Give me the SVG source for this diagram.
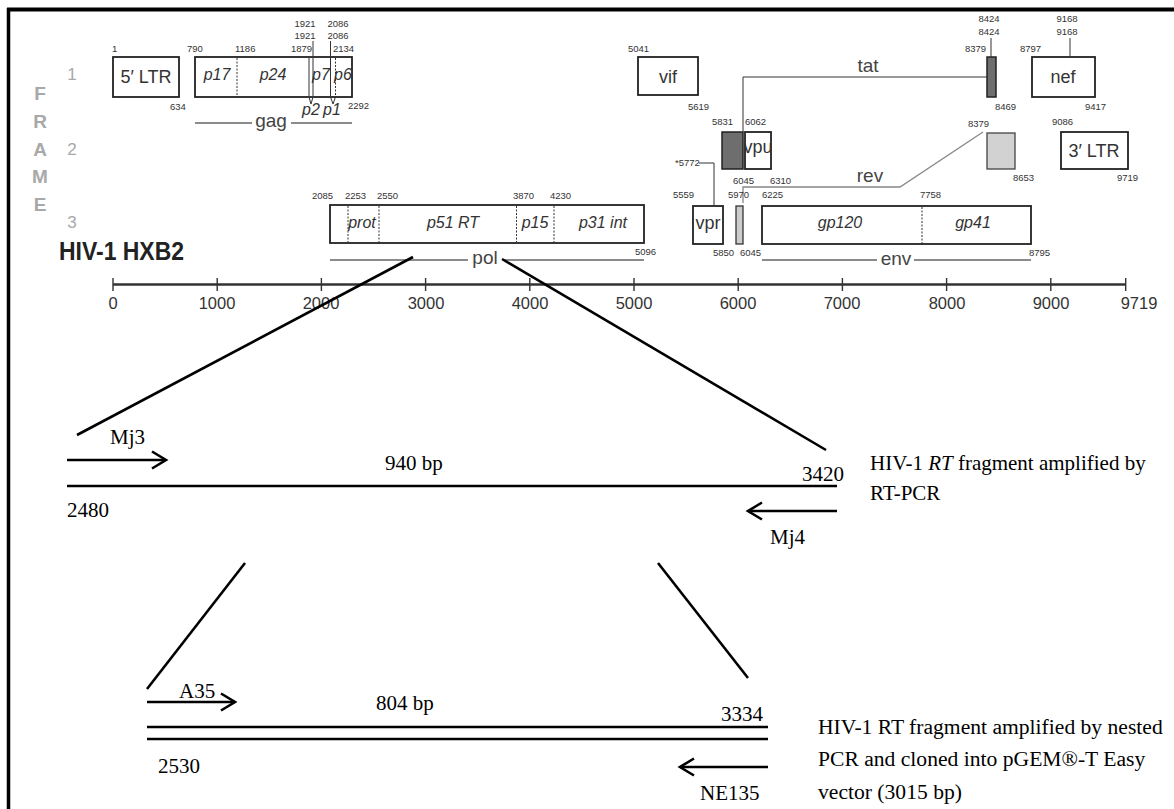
<svg xmlns="http://www.w3.org/2000/svg" width="1174" height="809" viewBox="0 0 1174 809">
<style>
.m{font-family:"Liberation Sans Narrow","Liberation Sans",Arial,sans-serif;fill:#333}
.n{font-size:9.5px}
.c{text-anchor:middle}
.e{text-anchor:end}
.bl{font-size:18px}
.it{font-size:16px;font-style:italic}
.gl{font-size:19px;fill:#444}
.ax{font-size:16.5px}
.fr{font-size:19px;fill:#a8a8a8;font-weight:bold}
.hx{font-size:25px;font-weight:bold;fill:#222}
.bx{fill:#fff;stroke:#222;stroke-width:1.8}
.dv{stroke:#333;stroke-width:1}
.dd{stroke:#333;stroke-width:1;stroke-dasharray:2,1.5}
.gln{stroke:#666;stroke-width:1.3;fill:none}
.t{font-family:"Liberation Serif","Times New Roman",serif;font-size:21px;fill:#000}
.t2{font-size:21.6px}
.bk{stroke:#000;stroke-width:2.6;fill:none}
</style>
<defs>
<marker id="ah" markerUnits="userSpaceOnUse" markerWidth="20" markerHeight="20" viewBox="0 0 20 20" refX="15" refY="10" orient="auto">
<path d="M1,1.5 L15,10 L1,18.5" fill="none" stroke="#000" stroke-width="2.6"/>
</marker>
</defs>
<rect width="1174" height="809" fill="#fff"/>
<g id="border" stroke="#000" fill="none">
<path d="M7,9.5 H1174" stroke-width="4"/>
<path d="M8.5,8 V809" stroke-width="3.5"/>
</g>

<g id="frame-labels" class="m">
<text class="fr c" x="40" y="100">F</text>
<text class="fr c" x="40" y="128">R</text>
<text class="fr c" x="40" y="156">A</text>
<text class="fr c" x="40" y="183">M</text>
<text class="fr c" x="40" y="211">E</text>
<text class="fr c" x="72" y="80" style="font-size:17px;font-weight:normal">1</text>
<text class="fr c" x="72" y="155" style="font-size:17px;font-weight:normal">2</text>
<text class="fr c" x="72" y="228" style="font-size:17px;font-weight:normal">3</text>
<text class="hx" x="59" y="260" textLength="125" lengthAdjust="spacingAndGlyphs">HIV-1 HXB2</text>
</g>

<g id="ltr5" class="m">
<rect class="bx" x="113" y="57" width="66" height="40"/>
<text class="bl c" x="146" y="83">5′ LTR</text>
<text class="n" x="112" y="52">1</text>
<text class="n" x="170" y="110">634</text>
</g>

<g id="gag" class="m">
<rect class="bx" x="195" y="57" width="157" height="40"/>
<line class="dd" x1="237" y1="58" x2="237" y2="96"/>
<line class="dv" x1="309" y1="58" x2="309" y2="96"/>
<line class="dv" x1="313" y1="58" x2="313" y2="96"/>
<line class="dv" x1="330.5" y1="58" x2="330.5" y2="96"/>
<line class="dd" x1="335.5" y1="58" x2="335.5" y2="96"/>
<polyline class="dv" fill="none" points="309,97 311,104 313,97"/>
<polyline class="dv" fill="none" points="330.5,97 333,104 335.5,97"/>
<line class="dv" x1="313" y1="41" x2="313" y2="57"/>
<line class="dv" x1="330.5" y1="41" x2="330.5" y2="57"/>
<text class="it c" x="217" y="80">p17</text>
<text class="it c" x="273" y="80">p24</text>
<text class="it c" x="321" y="80">p7</text>
<text class="it c" x="343" y="80">p6</text>
<text class="it c" x="311" y="115">p2</text>
<text class="it c" x="332" y="115">p1</text>
<text class="n" x="187" y="52">790</text>
<text class="n" x="235" y="52">1186</text>
<text class="n" x="291" y="52">1879</text>
<text class="n" x="333" y="52">2134</text>
<text class="n c" x="305" y="27">1921</text>
<text class="n c" x="305" y="39">1921</text>
<text class="n c" x="338" y="27">2086</text>
<text class="n c" x="338" y="39">2086</text>
<text class="n" x="348" y="109">2292</text>
<path class="gln" d="M195,123 H252 M291,123 H352"/>
<text class="gl c" x="271" y="127">gag</text>
</g>

<g id="pol" class="m">
<rect class="bx" x="330" y="205" width="314" height="38"/>
<line class="dd" x1="348" y1="206" x2="348" y2="242"/>
<line class="dd" x1="379" y1="206" x2="379" y2="242"/>
<line class="dd" x1="516.5" y1="206" x2="516.5" y2="242"/>
<line class="dd" x1="554" y1="206" x2="554" y2="242"/>
<text class="it c" x="362" y="228">prot</text>
<text class="it c" x="453" y="228">p51 RT</text>
<text class="it c" x="535" y="228">p15</text>
<text class="it c" x="603" y="228">p31 int</text>
<text class="n" x="312" y="199">2085</text>
<text class="n" x="345" y="199">2253</text>
<text class="n" x="377" y="199">2550</text>
<text class="n" x="513" y="199">3870</text>
<text class="n" x="550" y="199">4230</text>
<text class="n" x="635" y="255">5096</text>
<path class="gln" d="M330,260 H468 M503,260 H644"/>
<text class="gl c" x="485" y="264">pol</text>
</g>

<g id="vif" class="m">
<rect class="bx" x="638" y="57" width="60" height="38"/>
<text class="bl c" x="668" y="83">vif</text>
<text class="n" x="628" y="52">5041</text>
<text class="n" x="688" y="110">5619</text>
</g>

<g id="vpr" class="m">
<rect class="bx" x="693" y="206" width="30" height="38"/>
<text class="bl c" x="708" y="229">vpr</text>
<text class="n" x="673" y="198">5559</text>
<text class="n" x="713" y="256">5850</text>
<text class="n" x="675" y="166">*5772</text>
<polyline class="dv" fill="none" points="699,163 714,163 714,206"/>
</g>

<g id="tat" class="m">
<rect x="722" y="132" width="21" height="37" fill="#6e6e6e" stroke="#222" stroke-width="1.5"/>
<rect x="987" y="57" width="9" height="40" fill="#6e6e6e" stroke="#222" stroke-width="1.5"/>
<polyline class="dv" fill="none" points="743,132 743,77 987,77"/>
<line class="dv" x1="991" y1="38" x2="991" y2="57"/>
<text class="gl c" x="868" y="72">tat</text>
<text class="n" x="712" y="125">5831</text>
<text class="n" x="733" y="184">6045</text>
<text class="n" x="965" y="52">8379</text>
<text class="n" x="995" y="110">8469</text>
<text class="n c" x="989" y="22">8424</text>
<text class="n c" x="989" y="35">8424</text>
</g>

<g id="vpu" class="m">
<rect class="bx" x="745" y="132" width="26" height="37"/>
<text class="bl c" x="758" y="153">vpu</text>
<text class="n" x="745" y="125">6062</text>
<text class="n" x="770" y="184">6310</text>
</g>

<g id="rev" class="m">
<rect x="736" y="206" width="7" height="38" fill="#ccc" stroke="#333" stroke-width="1.3"/>
<rect x="987" y="133" width="28" height="36" fill="#d2d2d2" stroke="#444" stroke-width="1.3"/>
<polyline fill="none" stroke="#888" stroke-width="1.3" points="983,132 900,187 743,187 743,203"/>
<text class="gl c" x="870" y="182">rev</text>
<text class="n" x="728" y="198">5970</text>
<text class="n" x="740" y="256">6045</text>
<text class="n" x="968" y="127">8379</text>
<text class="n" x="1013" y="181">8653</text>
</g>

<g id="env" class="m">
<rect class="bx" x="762" y="206" width="269" height="38"/>
<line class="dd" x1="922" y1="207" x2="922" y2="243"/>
<text class="it c" x="840" y="228">gp120</text>
<text class="it c" x="973" y="228">gp41</text>
<text class="n" x="762" y="198">6225</text>
<text class="n" x="920" y="198">7758</text>
<text class="n" x="1029" y="256">8795</text>
<path class="gln" d="M762,260 H877 M914,260 H1031"/>
<text class="gl c" x="896" y="265">env</text>
</g>

<g id="nef" class="m">
<rect class="bx" x="1032" y="57" width="63" height="40"/>
<text class="bl c" x="1063" y="83">nef</text>
<line class="dv" x1="1070" y1="38" x2="1070" y2="57"/>
<text class="n" x="1020" y="52">8797</text>
<text class="n" x="1085" y="110">9417</text>
<text class="n c" x="1067" y="22">9168</text>
<text class="n c" x="1067" y="35">9168</text>
</g>

<g id="ltr3" class="m">
<rect class="bx" x="1061" y="132" width="67" height="37"/>
<text class="bl c" x="1094" y="157">3′ LTR</text>
<text class="n" x="1052" y="125">9086</text>
<text class="n" x="1117" y="181">9719</text>
</g>

<g id="axis" class="m">
<path d="M113,284.5 H1126" stroke="#333" stroke-width="2.6" fill="none"/>
<path d="M113,278 V291 M217.2,278 V291 M321.4,278 V291 M425.6,278 V291 M529.8,278 V291 M634,278 V291 M738.2,278 V291 M842.4,278 V291 M946.6,278 V291 M1050.8,278 V291 M1125.7,278 V291" stroke="#333" stroke-width="1.4" fill="none"/>
<text class="ax c" x="113" y="309">0</text>
<text class="ax c" x="217" y="309">1000</text>
<text class="ax c" x="321" y="309">2000</text>
<text class="ax c" x="426" y="309">3000</text>
<text class="ax c" x="530" y="309">4000</text>
<text class="ax c" x="634" y="309">5000</text>
<text class="ax c" x="738" y="309">6000</text>
<text class="ax c" x="842" y="309">7000</text>
<text class="ax c" x="947" y="309">8000</text>
<text class="ax c" x="1051" y="309">9000</text>
<text class="ax c" x="1139" y="309">9719</text>
</g>

<g id="connectors" class="bk">
<line x1="413" y1="257" x2="77" y2="435"/>
<line x1="502" y1="259" x2="826" y2="450"/>
<line x1="245" y1="563" x2="147" y2="689"/>
<line x1="658" y1="563" x2="748" y2="678"/>
</g>

<g id="rt-pcr-fragment">
<line class="bk" x1="67" y1="486" x2="837" y2="486"/>
<line class="bk" x1="67" y1="460" x2="166" y2="460" marker-end="url(#ah)"/>
<line class="bk" x1="837" y1="511" x2="748" y2="511" marker-end="url(#ah)"/>
<text class="t" x="110" y="444">Mj3</text>
<text class="t" x="385" y="470">940 bp</text>
<text class="t" x="67" y="517">2480</text>
<text class="t" x="802" y="481">3420</text>
<text class="t" x="770" y="544">Mj4</text>
<text class="t" x="870" y="470">HIV-1 <tspan font-style="italic">RT</tspan> fragment amplified by</text>
<text class="t" x="870" y="500">RT-PCR</text>
</g>

<g id="nested-fragment">
<line class="bk" x1="147" y1="727" x2="768" y2="727"/>
<line class="bk" x1="147" y1="739" x2="768" y2="739"/>
<line class="bk" x1="147" y1="702" x2="235" y2="702" marker-end="url(#ah)"/>
<line class="bk" x1="768" y1="767" x2="680" y2="767" marker-end="url(#ah)"/>
<text class="t" x="179" y="698">A35</text>
<text class="t" x="376" y="710">804 bp</text>
<text class="t" x="721" y="721">3334</text>
<text class="t" x="158" y="773">2530</text>
<text class="t" x="700" y="800">NE135</text>
<text class="t t2" x="818" y="734">HIV-1 RT fragment amplified by nested</text>
<text class="t t2" x="818" y="766">PCR and cloned into pGEM®-T Easy</text>
<text class="t t2" x="818" y="799">vector (3015 bp)</text>
</g>
</svg>
